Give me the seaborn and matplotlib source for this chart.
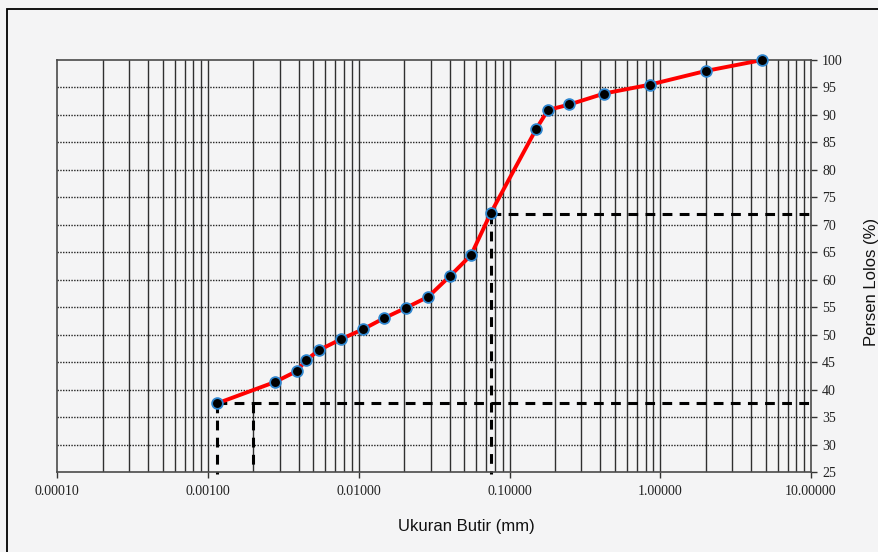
import numpy as np
import pandas as pd
import seaborn as sns
import matplotlib.pyplot as plt
from matplotlib.patches import Rectangle
from matplotlib.ticker import LogLocator, FixedLocator, NullFormatter

# Grain size (mm) and percent passing
ukuran_butir = [0.00115, 0.00279, 0.0039, 0.00448, 0.00546, 0.00764, 0.0107,
                0.0147, 0.0206, 0.0289, 0.0404, 0.0556, 0.075,
                0.15, 0.18, 0.25, 0.425, 0.85, 2.0, 4.75]
persen_lolos = [37.5, 41.4, 43.4, 45.4, 47.2, 49.2, 51.0,
                53.0, 54.9, 56.9, 60.7, 64.5, 72.1,
                87.4, 90.9, 91.9, 93.9, 95.5, 98.0, 100.0]

x_ticks = [0.0001, 0.001, 0.01, 0.1, 1.0, 10.0]
x_tick_labels = ["0.00010", "0.00100", "0.01000", "0.10000", "1.00000", "10.00000"]
y_ticks = list(range(25, 101, 5))

# Reference readings: D at 37.5 % and 72 % passing, plus 0.002 mm clay limit
d_low, p_low = 0.00115, 37.5
d_high, p_high = 0.075, 72.0
clay_limit = 0.002

df = pd.DataFrame({"ukuran": ukuran_butir, "lolos": persen_lolos})

sns.set_theme(style="white")
bg = "#f4f4f5"
fig = plt.figure(figsize=(8.79, 5.52), dpi=100, facecolor=bg)
ax = fig.add_axes([0.0652, 0.1449, 0.8574, 0.7464])
ax.set_facecolor(bg)

ax.set_xscale("log")
ax.set_xlim(1e-4, 10)
ax.set_ylim(25, 100)

# grid: solid verticals at every log decade subdivision, dotted horizontals
for dec in range(-4, 1):
    for m in range(1, 10):
        xv = m * 10.0 ** dec
        if xv > 1e-4:
            ax.axvline(xv, color="#303030", lw=1.0, zorder=1)
for yv in y_ticks[1:-1]:
    ax.axhline(yv, color="#222222", lw=1.0, ls=(0, (1, 1)), zorder=1)

# dashed reading lines
dash = (0, (3.2, 2.4))
ax.plot([d_low, 9.8], [p_low, p_low], color="black", lw=2.2, ls=dash, zorder=2)
ax.plot([d_high, 9.8], [p_high, p_high], color="black", lw=2.2, ls=dash, zorder=2)
ax.plot([d_low, d_low], [p_low, 24.7], color="black", lw=2.2, ls=dash, zorder=2,
        clip_on=False)
ax.plot([clay_limit, clay_limit], [p_low, 25], color="black", lw=2.2, ls=dash,
        zorder=2)
ax.plot([d_high, d_high], [p_high, 24.7], color="black", lw=2.2, ls=dash,
        zorder=2, clip_on=False)

sns.lineplot(data=df, x="ukuran", y="lolos", ax=ax, color="#ff0000", lw=2.8,
             sort=False, estimator=None, zorder=3)
sns.scatterplot(data=df, x="ukuran", y="lolos", ax=ax, color="black", s=60,
                edgecolor="#2f86cf", linewidth=1.3, zorder=4, clip_on=False)

ax.xaxis.set_major_locator(FixedLocator(x_ticks))
ax.set_xticklabels(x_tick_labels)
ax.xaxis.set_minor_locator(LogLocator(base=10, subs=np.arange(2, 10)))
ax.xaxis.set_minor_formatter(NullFormatter())
ax.tick_params(axis="x", which="major", direction="out", length=4, width=1,
               color="#333333", bottom=True, labelsize=10, pad=5)
ax.tick_params(axis="x", which="minor", length=0)

ax.yaxis.tick_right()
ax.set_yticks(y_ticks)
ax.tick_params(axis="y", which="major", direction="out", length=4, width=1,
               color="#333333", right=True, left=False, labelsize=10, pad=4)

for lab in ax.get_xticklabels() + ax.get_yticklabels():
    lab.set_fontfamily("Liberation Serif")
    lab.set_color("#222222")

for sp in ax.spines.values():
    sp.set_visible(True)
    sp.set_color("#4a4a4a")
    sp.set_linewidth(1.2)

ax.set_xlabel("")
ax.set_ylabel("")
fig.text(0.531, 0.0453, "Ukuran Butir (mm)", ha="center", va="center",
         fontsize=12, family="Liberation Sans", color="#111111")
fig.text(0.9915, 0.489, "Persen Lolos (%)", ha="center", va="center",
         rotation=90, fontsize=12, family="Liberation Sans", color="#111111")

# outer frame
fig.patches.append(Rectangle((7.3 / 879, -0.05), 1.1, 1.05 - 9 / 552,
                             transform=fig.transFigure, fill=False,
                             edgecolor="black", lw=1.3))

fig.savefig("out.png", dpi=100, facecolor=bg)
